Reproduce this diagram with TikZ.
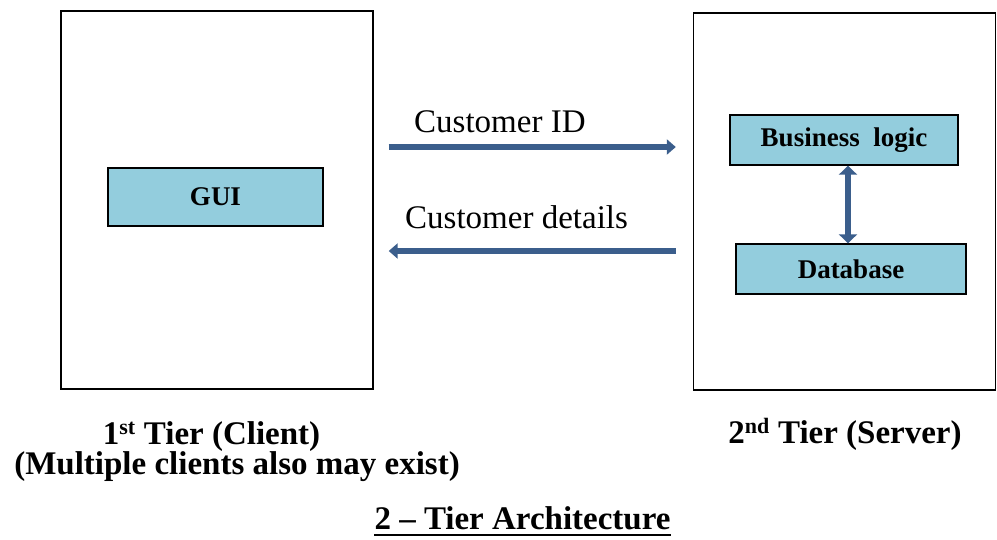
\documentclass[tikz,border=0pt]{standalone}
\usepackage{fontspec}
\setmainfont{Liberation Serif}
\usetikzlibrary{arrows.meta}
\definecolor{boxfill}{HTML}{93CDDD}
\definecolor{flowblue}{HTML}{3B5E8C}
\begin{document}
\begin{tikzpicture}[x=1pt,y=-1pt,
  tier/.style={draw,line width=1.4pt,inner sep=0pt},
  part/.style={draw,line width=1.4pt,fill=boxfill,inner sep=0pt,font=\fontsize{27}{30}\selectfont\bfseries},
  msg/.style={inner sep=0pt,anchor=base west,font=\fontsize{33}{30}\selectfont},
  tierlabel/.style={inner sep=0pt,anchor=base,font=\fontsize{33}{30}\selectfont\bfseries},
  flow/.style={draw=flowblue,line width=5.5pt,-{Triangle[width=15pt,length=9pt]}},
  link/.style={draw=flowblue,line width=6.5pt,{Triangle[width=18pt,length=9pt]}-{Triangle[width=18pt,length=9pt]}}]
  \useasboundingbox (0,0) rectangle (997,539);
  % the two tiers
  \node[tier,minimum width=312pt,minimum height=378pt] (client) at (217,200) {};
  \node[tier,minimum width=302pt,minimum height=377pt] (server) at (844.5,201.5) {};
  \node[part,minimum width=215pt,minimum height=58pt] (gui) at (215.5,197) {GUI};
  \node[part,minimum width=228pt,minimum height=50pt] (logic) at (844,140) {Business\ \ logic};
  \node[part,minimum width=230pt,minimum height=50pt] (db) at (851,269) {Database};
  \draw[link] ([xshift=4pt]logic.south) -- ([xshift=4pt]logic.south |- db.north);
  % messages between client and server
  \node[msg] (idtxt) at (414,132) {Customer ID};
  \node[msg] (dettxt) at (405,228) {Customer details};
  \draw[flow] ([xshift=15pt]client.east |- 0,147) -- ([xshift=-17pt]server.west |- 0,147);
  \draw[flow] ([xshift=-17pt]server.west |- 0,251) -- ([xshift=15pt]client.east |- 0,251);
  % captions
  \node[tierlabel] (first) at (211.5,444) {1\textsuperscript{\fontsize{22}{22}\selectfont st} Tier (Client)};
  \node[tierlabel] (multi) at (237,474) {(Multiple clients also may exist)};
  \node[tierlabel] (second) at (845,443) {2\textsuperscript{\fontsize{22}{22}\selectfont nd} Tier (Server)};
  \node[tierlabel] (title) at (522.5,529) {2 -- Tier Architecture};
  \draw[line width=1.6pt] ([yshift=-6pt]title.base west) -- ([yshift=-6pt]title.base east);
\end{tikzpicture}
\end{document}
